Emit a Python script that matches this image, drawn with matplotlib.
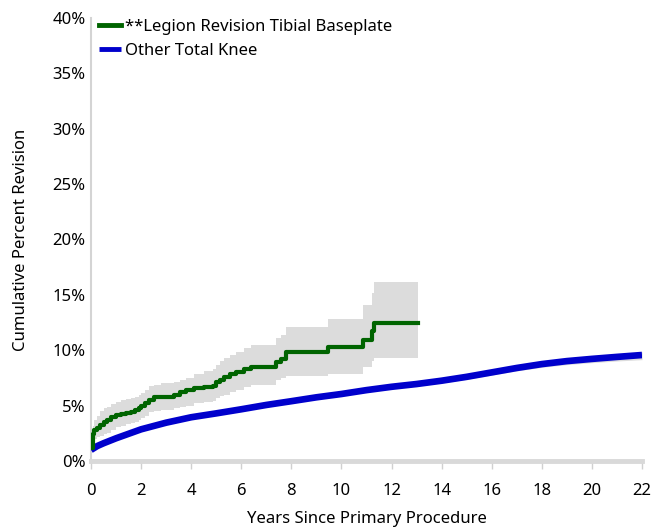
import matplotlib
matplotlib.use("Agg")
import matplotlib.pyplot as plt

# ---- data ----
legion_t = [0.0, 0.08, 0.13, 0.25, 0.36, 0.5, 0.62, 0.8, 1.0, 1.2,
            1.41, 1.6, 1.74, 1.9, 2.0, 2.15, 2.3, 2.5, 2.8, 3.3,
            3.55, 3.8, 4.1, 4.5, 4.88, 5.0, 5.15, 5.3, 5.55, 5.8,
            6.1, 6.4, 7.4, 7.6, 7.8, 9.46, 10.86, 11.2, 11.3, 13.05]
legion_v = [1.2, 2.4, 2.8, 3.0, 3.25, 3.5, 3.7, 3.95, 4.15, 4.25,
            4.36, 4.45, 4.6, 4.8, 4.97, 5.25, 5.5, 5.75, 5.8, 6.0,
            6.26, 6.4, 6.56, 6.65, 6.77, 7.1, 7.3, 7.6, 7.85, 8.06,
            8.3, 8.5, 8.9, 9.2, 9.8, 10.3, 10.9, 11.7, 12.5, 12.5]
legion_lo = [1.0, 1.6, 2.0, 2.15, 2.3, 2.45, 2.55, 2.8, 3.1, 3.2,
             3.3, 3.4, 3.5, 3.7, 3.85, 4.1, 4.45, 4.55, 4.6, 4.75,
             4.9, 5.0, 5.2, 5.3, 5.4, 5.7, 5.85, 6.0, 6.2, 6.4,
             6.65, 6.9, 7.3, 7.5, 7.7, 7.9, 8.5, 9.0, 9.3, 9.3]
legion_hi = [1.5, 3.2, 3.7, 4.1, 4.5, 4.75, 4.9, 5.15, 5.35, 5.5,
             5.6, 5.7, 5.8, 6.0, 6.1, 6.45, 6.77, 6.9, 7.0, 7.15,
             7.3, 7.5, 7.9, 8.1, 8.3, 8.7, 9.0, 9.27, 9.55, 9.8,
             10.2, 10.5, 11.1, 11.4, 12.1, 12.8, 14.1, 15.2, 16.2, 16.2]

other_t = [0, 0.25, 0.5, 1, 2, 3, 4, 5, 6, 7, 8, 9, 10, 11, 12, 13, 14, 15, 16, 17, 18, 19, 20, 21, 22]
other_v = [1.0, 1.35, 1.6, 2.05, 2.86, 3.46, 3.95, 4.3, 4.67, 5.06, 5.4, 5.75, 6.05, 6.4, 6.7, 6.95, 7.25, 7.6, 8.0, 8.4, 8.75, 9.02, 9.22, 9.4, 9.57]
other_lo = [0.95, 1.3, 1.55, 1.98, 2.78, 3.37, 3.85, 4.2, 4.56, 4.94, 5.27, 5.61, 5.9, 6.24, 6.52, 6.76, 7.05, 7.38, 7.76, 8.14, 8.46, 8.7, 8.88, 9.03, 9.15]
other_hi = [1.05, 1.4, 1.65, 2.1, 2.92, 3.53, 4.03, 4.38, 4.76, 5.15, 5.5, 5.86, 6.17, 6.53, 6.84, 7.1, 7.4, 7.76, 8.17, 8.6, 8.96, 9.25, 9.45, 9.67, 9.85]

xticks = list(range(0, 23, 2))
yticks = list(range(0, 41, 5))
ytick_labels = [f"{v}%" for v in yticks]

plt.rcParams['font.family'] = ['Noto Sans', 'DejaVu Sans']
FS = 12

fig = plt.figure(figsize=(6.72, 5.28), dpi=100)
ax = fig.add_axes([91/672, 1 - 461/528, (642-91)/672, (461-18)/528])

band = '#dcdcdc'
ax.fill_between(legion_t, legion_lo, legion_hi, step='post', color=band, lw=0)
ax.fill_between(other_t, other_lo, other_hi, color=band, lw=0)
ax.plot(other_t, other_v, color='#0000cc', lw=4.8, solid_capstyle='butt', label='Other Total Knee', zorder=3)
ax.plot(legion_t, legion_v, color='#006400', lw=3, drawstyle='steps-post', label='**Legion Revision Tibial Baseplate', zorder=4)

ax.set_xlim(0, 22)
ax.set_ylim(0, 40)
ax.set_xticks(xticks)
ax.set_yticks(yticks)
ax.set_yticklabels(ytick_labels)

for s in ['top', 'right']:
    ax.spines[s].set_visible(False)
ax.spines['left'].set_color('#d4d4d4')
ax.spines['left'].set_linewidth(1.5)
ax.spines['bottom'].set_color('#d9d9d9')
ax.spines['bottom'].set_linewidth(3.5)
ax.tick_params(axis='x', colors='#d0d0d0', length=6, width=1, pad=9.5, labelcolor='black', labelsize=FS)
ax.tick_params(axis='y', length=0, pad=4, labelcolor='black', labelsize=FS)

ax.set_xlabel('Years Since Primary Procedure', fontsize=FS, labelpad=9)
ax.set_ylabel('Cumulative Percent Revision', fontsize=FS, labelpad=17)

h, l = ax.get_legend_handles_labels()
leg = ax.legend(h[::-1], l[::-1], loc='upper left', frameon=False, fontsize=FS,
                handlelength=1.35, handletextpad=0.22, labelspacing=0.48,
                bbox_to_anchor=(0.014, 0.997), borderaxespad=0, borderpad=0)
for line in leg.get_lines():
    line.set_linewidth(3.5)

fig.savefig('out.png', dpi=100)
